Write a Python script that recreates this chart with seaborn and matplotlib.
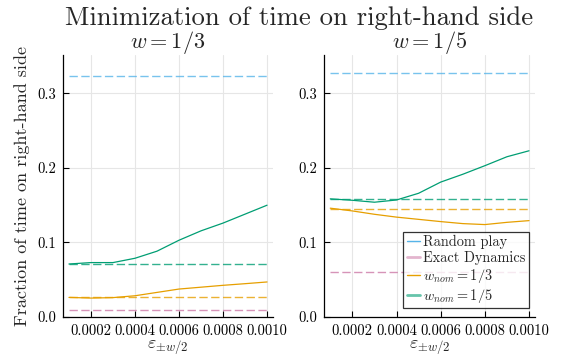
import matplotlib
matplotlib.use("Agg")
import numpy as np
import pandas as pd
import seaborn as sns
import matplotlib.pyplot as plt
from matplotlib.lines import Line2D
from matplotlib.ticker import FixedLocator, FixedFormatter

# ---------------- data ----------------
eps = [0.0001, 0.0002, 0.0003, 0.0004, 0.0005, 0.0006, 0.0007, 0.0008, 0.0009, 0.0010]

# panel w = 1/3
w3_nom3 = [0.0263, 0.0254, 0.0260, 0.0285, 0.0330, 0.0375, 0.0400, 0.0425, 0.0447, 0.0470]
w3_nom5 = [0.0711, 0.0730, 0.0730, 0.0788, 0.0883, 0.1030, 0.1156, 0.1260, 0.1380, 0.1500]
# panel w = 1/5
w5_nom3 = [0.1460, 0.1423, 0.1378, 0.1340, 0.1310, 0.1280, 0.1253, 0.1240, 0.1270, 0.1293]
w5_nom5 = [0.1585, 0.1566, 0.1540, 0.1570, 0.1660, 0.1810, 0.1915, 0.2030, 0.2150, 0.2230]

# constant reference levels  [w=1/3, w=1/5]
random_play = [0.323, 0.328]
exact_dyn = [0.0088, 0.0606]
nom3_level = [0.0263, 0.1455]
nom5_level = [0.0707, 0.1580]

panel_titles = [r"$w = 1/3$", r"$w = 1/5$"]
xtick_vals = [0.0002, 0.0004, 0.0006, 0.0008, 0.0010]
xtick_labels = ["0.0002", "0.0004", "0.0006", "0.0008", "0.0010"]
ytick_vals = [0.0, 0.1, 0.2, 0.3]
ytick_labels = ["0.0", "0.1", "0.2", "0.3"]
legend_labels = ["Random play", "Exact Dynamics", r"$w_{nom} = 1/3$", r"$w_{nom} = 1/5$"]
x_label = r"$\varepsilon_{\pm w/2}$"

c_blue, c_pink, c_orange, c_green = "#56B4E9", "#CC79A7", "#E69F00", "#009E73"

# ---------------- style ----------------
sns.set_theme(style="white")
plt.rcParams.update({
    "font.family": ["cmr10", "DejaVu Serif"],
    "mathtext.fontset": "cm",
    "axes.formatter.use_mathtext": True,
    "axes.unicode_minus": False,
})

W, H = 561, 355
fig = plt.figure(figsize=(W / 100, H / 100), dpi=100)

def fx(px):
    return px / W

def fy(py):
    return 1 - py / H

ax_boxes = [(63, 55, 273, 317), (324.3, 55, 535, 317)]
solid = [(w3_nom3, w3_nom5), (w5_nom3, w5_nom5)]

for i, (x0, y0, x1, y1) in enumerate(ax_boxes):
    ax = fig.add_axes([fx(x0), fy(y1), fx(x1 - x0), (y1 - y0) / H])
    n3, n5 = solid[i]
    df = pd.DataFrame({"eps": eps, "nom3": n3, "nom5": n5})
    ends = [eps[0], eps[-1]]
    for lvl, col in [(random_play[i], c_blue), (exact_dyn[i], c_pink),
                     (nom3_level[i], c_orange), (nom5_level[i], c_green)]:
        dfl = pd.DataFrame({"eps": ends, "v": [lvl, lvl]})
        sns.lineplot(data=dfl, x="eps", y="v", ax=ax, color=col, lw=1.0,
                     alpha=0.8, linestyle=(0, (6, 2.5)))
    sns.lineplot(data=df, x="eps", y="nom3", ax=ax, color=c_orange, lw=0.9)
    sns.lineplot(data=df, x="eps", y="nom5", ax=ax, color=c_green, lw=0.9)

    ax.set_xlim(0.000073, 0.001027)
    ax.set_ylim(0, 0.3515)
    ax.xaxis.set_major_locator(FixedLocator(xtick_vals))
    ax.xaxis.set_major_formatter(FixedFormatter(xtick_labels))
    ax.yaxis.set_major_locator(FixedLocator(ytick_vals))
    ax.yaxis.set_major_formatter(FixedFormatter(ytick_labels))
    ax.grid(True, color="#e6e6e6", lw=0.8)
    for s in ["top", "right"]:
        ax.spines[s].set_visible(False)
    for s in ["left", "bottom"]:
        ax.spines[s].set_color("black")
        ax.spines[s].set_linewidth(0.9)
    ax.tick_params(direction="in", length=4, width=0.8, colors="black",
                   labelsize=10.5, pad=5, left=True, bottom=True)
    ax.set_xlabel("")
    ax.set_ylabel("Fraction of time on right-hand side" if i == 0 else "",
                  fontsize=13, labelpad=5)
    ax.set_title(panel_titles[i], fontsize=16, pad=5)
    fig.text(fx((x0 + x1) / 2), fy(347.5), x_label, ha="center", va="baseline",
             fontsize=13)

    if i == 1:
        handles = [
            Line2D([], [], color=c_blue, lw=1.0),
            Line2D([], [], color=c_pink, lw=2.0, alpha=0.55),
            Line2D([], [], color=c_orange, lw=1.0),
            Line2D([], [], color=c_green, lw=2.0, alpha=0.6),
        ]
        leg = ax.legend(handles, legend_labels, loc="lower right",
                        bbox_to_anchor=(0.972, 0.034), fontsize=10.3, frameon=True,
                        fancybox=False, handlelength=0.9, handletextpad=0.25,
                        labelspacing=0.12, borderpad=0.25, borderaxespad=0.0)
        leg.get_frame().set_edgecolor("black")
        leg.get_frame().set_linewidth(0.9)

fig.text(fx(299), fy(25), "Minimization of time on right-hand side",
         ha="center", va="baseline", fontsize=19.2)

fig.savefig("out.png", dpi=100)
